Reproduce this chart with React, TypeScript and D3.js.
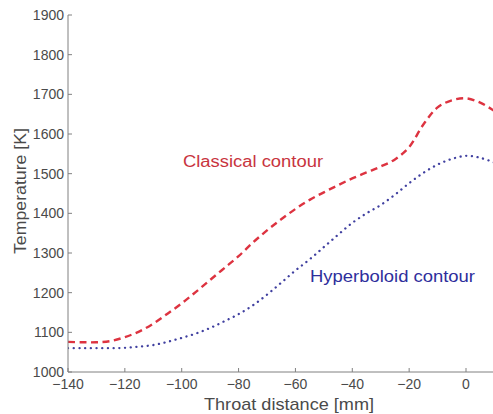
import React from "react";
import * as d3 from "d3";

const xTicks = [-140, -120, -100, -80, -60, -40, -20, 0];
const yTicks = [1000, 1100, 1200, 1300, 1400, 1500, 1600, 1700, 1800, 1900];

const classicalX = [-140, -135, -130, -125, -120, -115, -110, -105, -100, -95, -90, -85, -80, -75, -70, -65, -60, -55, -50, -45, -40, -35, -30, -25, -20, -15, -10, -5, 0, 5, 10];
const classicalT = [1076, 1075, 1075, 1078, 1088, 1102, 1122, 1147, 1173, 1202, 1232, 1262, 1292, 1326, 1357, 1385, 1411, 1434, 1453, 1471, 1488, 1503, 1518, 1536, 1567, 1624, 1667, 1685, 1690, 1679, 1658];

const hyperX = [-140, -135, -130, -125, -120, -115, -110, -105, -100, -95, -90, -85, -80, -75, -70, -65, -60, -55, -50, -45, -40, -35, -30, -25, -20, -15, -10, -5, 0, 5, 10];
const hyperT = [1060, 1060, 1060, 1060, 1061, 1064, 1068, 1076, 1086, 1097, 1111, 1128, 1146, 1168, 1195, 1225, 1256, 1284, 1315, 1346, 1376, 1400, 1421, 1447, 1476, 1502, 1523, 1537, 1545, 1540, 1528];

const W = 493;
const H = 414;

export default function App() {
  const x = d3.scaleLinear().domain([-140, 0]).range([68, 466]);
  const y = d3.scaleLinear().domain([1000, 1900]).range([372, 15]);

  const line = d3
    .line<[number, number]>()
    .x((d) => x(d[0]))
    .y((d) => y(d[1]))
    .curve(d3.curveCatmullRom.alpha(0.5));

  const cData: [number, number][] = classicalX.map((v, i) => [v, classicalT[i]]);
  const hData: [number, number][] = hyperX.map((v, i) => [v, hyperT[i]]);

  const axisColor = "#808080";
  const textColor = "#4a4a4a";
  const font = "'Liberation Sans', Arial, sans-serif";

  return (
    <svg
      width={W}
      height={H}
      style={{ position: "absolute", left: 0, top: 0, background: "#fff" }}
      fontFamily={font}
    >
      <defs>
        <clipPath id="plotclip">
          <rect x={68} y={0} width={W - 68} height={372} />
        </clipPath>
      </defs>
      <g clipPath="url(#plotclip)">
        <path d={line(hData) || ""} fill="none" stroke="#4040a0" strokeWidth={2.3} strokeDasharray="0.1 5.6" strokeLinecap="round" />
        <path d={line(cData) || ""} fill="none" stroke="#dd3340" strokeWidth={2.4} strokeDasharray="7 4.5" />
      </g>
      <line x1={68} x2={68} y1={y(1900)} y2={372} stroke={axisColor} strokeWidth={1} />
      <line x1={68} x2={W} y1={372} y2={372} stroke={axisColor} strokeWidth={1} />
      {yTicks.map((t) => (
        <g key={"y" + t}>
          <line x1={68} x2={72} y1={y(t)} y2={y(t)} stroke={axisColor} />
          <text x={64} y={y(t) + 5} textAnchor="end" fontSize={14} fill={textColor}>
            {t}
          </text>
        </g>
      ))}
      {xTicks.map((t) => (
        <g key={"x" + t}>
          <line x1={x(t)} x2={x(t)} y1={372} y2={368} stroke={axisColor} />
          <text x={x(t)} y={389} textAnchor="middle" fontSize={14} fill={textColor}>
            {t < 0 ? "\u2212" + Math.abs(t) : String(t)}
          </text>
        </g>
      ))}
      <text x={289} y={410} textAnchor="middle" fontSize={17} fill={textColor} textLength={170} lengthAdjust="spacingAndGlyphs">
        Throat distance [mm]
      </text>
      <text
        transform={`translate(26,191) rotate(-90)`}
        textAnchor="middle"
        fontSize={17}
        fill={textColor}
        textLength={126}
        lengthAdjust="spacingAndGlyphs"
      >
        Temperature [K]
      </text>
      <text x={183} y={167} fontSize={16} fill="#c8343e" textLength={140} lengthAdjust="spacingAndGlyphs">
        Classical contour
      </text>
      <text x={310} y={282} fontSize={16} fill="#2e2e9c" textLength={165} lengthAdjust="spacingAndGlyphs">
        Hyperboloid contour
      </text>
    </svg>
  );
}
